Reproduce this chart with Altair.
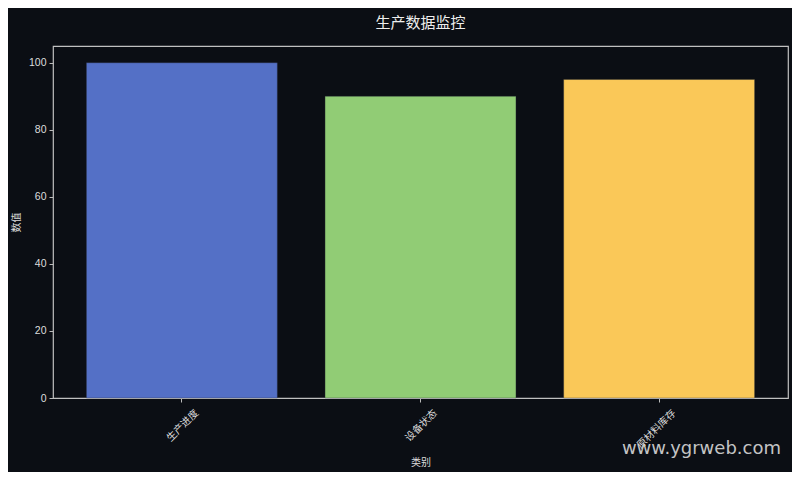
import altair as alt
import pandas as pd

categories = ["生产进度", "设备状态", "原材料库存"]
values = [100, 90, 95]
colors = ["#5470c6", "#91cc75", "#fac858"]

df = pd.DataFrame({"类别": categories, "数值": values})

CJK = "Noto Sans CJK SC"
NUM = "Liberation Sans"

bars = alt.Chart(df).mark_bar(stroke="#2a2f3a", strokeWidth=0.6, strokeOpacity=0.6).encode(
    x=alt.X("类别:N", sort=categories,
            scale=alt.Scale(paddingInner=0.2, paddingOuter=0.14),
            axis=alt.Axis(title="类别", labelAngle=-45, labelAlign="right",
                          labelBaseline="middle", labelFont=CJK, labelFontSize=10,
                          labelColor="#dddddd", titleFont=CJK, titleFontSize=10,
                          titleColor="#dddddd", titleFontWeight="normal",
                          tickColor="#bbbbbb", tickSize=4, domain=False,
                          labelPadding=9, labelOffset=15, titlePadding=8)),
    y=alt.Y("数值:Q", scale=alt.Scale(domain=[0, 105], nice=False),
            axis=alt.Axis(title="数值", values=[0, 20, 40, 60, 80, 100],
                          labelFont=NUM, labelFontSize=10.5, labelColor="#dddddd",
                          titleFont=CJK, titleFontSize=10, titleColor="#dddddd",
                          titleFontWeight="normal", tickColor="#bbbbbb", tickSize=4,
                          grid=False, domain=False, labelPadding=3, titlePadding=7)),
    color=alt.Color("类别:N", sort=categories,
                    scale=alt.Scale(domain=categories, range=colors), legend=None),
)

wm = alt.Chart(pd.DataFrame({"t": ["www.ygrweb.com"]})).mark_text(
    font="DejaVu Sans", fontSize=18, color="#d8d8d8", opacity=0.9,
    align="right", baseline="middle"
).encode(text="t:N", x=alt.value(728), y=alt.value(403))

chart = alt.layer(bars, wm).properties(
    width=735, height=352,
    background="#0b0e14",
    padding={"left": 45, "top": 38, "right": 4, "bottom": 74},
    autosize=alt.AutoSizeParams(type="none"),
    title=alt.TitleParams("生产数据监控", font=CJK, fontSize=15, color="#eeeeee",
                          fontWeight="normal", anchor="middle", offset=15),
).configure_view(stroke="#c0c0c0", strokeWidth=1.2, fill="#0b0e14")

chart.save("out.html", embed_options={"renderer": "svg", "actions": False})
